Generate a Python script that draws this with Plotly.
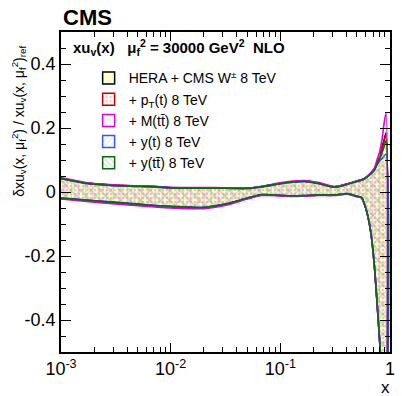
import plotly.graph_objects as go

# x grid of the uncertainty bands
x = [0.001, 0.0018, 0.0036, 0.0072, 0.01, 0.02, 0.032, 0.05, 0.068, 0.1, 0.13,
     0.165, 0.22, 0.31, 0.41, 0.49, 0.55, 0.58, 0.62, 0.67, 0.72, 0.76, 0.81,
     0.85, 0.88, 0.92]

# relative uncertainty bands (upper / lower edges)
hera_up = [0.043, 0.027, 0.020, 0.017, 0.0135, 0.013, 0.012, 0.0115, 0.017, 0.027, 0.032,
           0.034, 0.028, 0.016, 0.025, 0.033, 0.038, 0.041, 0.048, 0.058, 0.069, 0.088,
           0.112, 0.142, 0.16, 0.184]
hera_lo = [-0.020, -0.027, -0.035, -0.043, -0.046, -0.049, -0.038, -0.020, -0.009, -0.011,
           -0.013, -0.012, -0.010, -0.010, -0.006, -0.013, -0.018, -0.035, -0.067, -0.128,
           -0.23, -0.34, -0.48, -0.62, -0.75, -0.9]

pt_up = [0.042, 0.027, 0.020, 0.017, 0.0135, 0.013, 0.012, 0.0115, 0.017, 0.027, 0.032,
         0.034, 0.028, 0.016, 0.025, 0.033, 0.038, 0.041, 0.048, 0.058, 0.069, 0.087,
         0.11, 0.138, 0.156, 0.178]
pt_lo = [-0.020, -0.027, -0.035, -0.043, -0.046, -0.049, -0.038, -0.020, -0.009, -0.011,
         -0.013, -0.012, -0.010, -0.010, -0.006, -0.013, -0.018, -0.035, -0.067, -0.128,
         -0.23, -0.34, -0.48, -0.62, -0.75, -0.9]

mtt_up = [0.045, 0.028, 0.021, 0.018, 0.015, 0.014, 0.013, 0.012, 0.018, 0.029, 0.034,
          0.036, 0.030, 0.017, 0.026, 0.034, 0.039, 0.042, 0.050, 0.061, 0.075, 0.10,
          0.13, 0.17, 0.21, 0.247]
mtt_lo = [-0.022, -0.030, -0.039, -0.047, -0.050, -0.052, -0.041, -0.022, -0.011, -0.012,
          -0.014, -0.013, -0.011, -0.011, -0.007, -0.014, -0.019, -0.036, -0.068, -0.13,
          -0.232, -0.345, -0.485, -0.63, -0.76, -0.91]

yt_up = [0.042, 0.026, 0.019, 0.016, 0.013, 0.012, 0.0115, 0.011, 0.016, 0.026, 0.031,
         0.033, 0.027, 0.015, 0.024, 0.032, 0.037, 0.040, 0.047, 0.057, 0.068, 0.085,
         0.098, 0.105, 0.112, 0.118]
yt_lo = [-0.019, -0.026, -0.034, -0.042, -0.045, -0.048, -0.037, -0.019, -0.008, -0.010,
         -0.012, -0.011, -0.009, -0.009, -0.005, -0.012, -0.017, -0.034, -0.066, -0.127,
         -0.228, -0.338, -0.478, -0.62, -0.75, -0.9]

ytt_up = [0.042, 0.026, 0.019, 0.016, 0.013, 0.012, 0.0115, 0.011, 0.016, 0.026, 0.031,
          0.033, 0.027, 0.015, 0.024, 0.032, 0.037, 0.040, 0.047, 0.057, 0.068, 0.086,
          0.105, 0.125, 0.14, 0.16]
ytt_lo = [-0.019, -0.026, -0.034, -0.042, -0.045, -0.048, -0.037, -0.019, -0.008, -0.010,
          -0.012, -0.011, -0.009, -0.009, -0.005, -0.012, -0.017, -0.034, -0.066, -0.127,
          -0.228, -0.338, -0.478, -0.62, -0.75, -0.9]

names = ["HERA + CMS W<sup>±</sup> 8 TeV", "+ p<sub>T</sub>(t) 8 TeV", "+ M(tt̄) 8 TeV",
         "+ y(t) 8 TeV", "+ y(tt̄) 8 TeV"]

FONT = "Liberation Sans, Arial, sans-serif"

bands = [
    (names[0], hera_up, hera_lo, "#000000", dict(shape="", bgcolor="#ffffcc"), "#ffffcc"),
    (names[1], pt_up, pt_lo, "#cc0000", dict(shape=".", fgcolor="#ff8080", bgcolor="rgba(0,0,0,0)",
                                          size=4, solidity=0.3), None),
    (names[2], mtt_up, mtt_lo, "#dd00dd", dict(shape="|", fgcolor="#ff99ff", bgcolor="rgba(0,0,0,0)",
                                           size=7, solidity=0.2), None),
    (names[3], yt_up, yt_lo, "#3355ff", dict(shape="/", fgcolor="#99aaff", bgcolor="rgba(0,0,0,0)",
                                         size=7, solidity=0.2), None),
    (names[4], ytt_up, ytt_lo, "#116611", dict(shape="\\", fgcolor="#88c088", bgcolor="rgba(0,0,0,0)",
                                           size=7, solidity=0.25), None),
]

fig = go.Figure()
for name, up, lo, lc, patt, fc in bands:
    kw = dict(fillcolor=fc) if fc else dict(fillpattern=patt, fillcolor="rgba(0,0,0,0)")
    fig.add_trace(go.Scatter(
        x=x + x[::-1], y=up + lo[::-1], name=name, mode="lines", showlegend=False,
        fill="toself", line=dict(color=lc, width=1.6, shape="spline", smoothing=0.8),
        **kw))

# legend entries drawn as boxes (bar legend symbols)
for name, up, lo, lc, patt, fc in bands:
    if fc:
        marker = dict(color=fc, line=dict(color=lc, width=1.5))
    else:
        p = dict(patt)
        p["bgcolor"] = "white"
        p["size"] = 5
        marker = dict(color="white", pattern=p, line=dict(color=lc, width=1.5))
    fig.add_trace(go.Bar(x=[None], y=[None], name=name, marker=marker, showlegend=True))

axis_common = dict(showline=True, linecolor="black", linewidth=1.5, mirror="ticks",
                   ticks="inside", tickcolor="black", showgrid=False, zeroline=False,
                   tickfont=dict(family=FONT, size=18, color="black"))

# page body has an 8 px margin, so the figure is shrunk by 8 px on each side
fig.update_layout(
    width=403, height=388,
    margin=dict(l=53, r=21, t=24, b=44),
    plot_bgcolor="white", paper_bgcolor="white",
    font=dict(family=FONT, color="black"),
    xaxis=dict(type="log", range=[-3, 0], tickmode="array",
               tickvals=[0.001, 0.01, 0.1, 1],
               ticktext=["10<sup>-3</sup>", "10<sup>-2</sup>", "10<sup>-1</sup>", "1"],
               ticklen=9,
               minor=dict(ticks="inside", ticklen=5, dtick="D1", tickcolor="black", showgrid=False),
               **axis_common),
    yaxis=dict(range=[-0.5, 0.5], tickvals=[-0.4, -0.2, 0, 0.2, 0.4],
               ticktext=["-0.4", "-0.2", "0", "0.2", "0.4"], ticklen=10,
               minor=dict(ticks="inside", ticklen=5, dtick=0.05, tickcolor="black", showgrid=False),
               **axis_common),
    legend=dict(x=0.084, y=0.905, xanchor="left", yanchor="top", bgcolor="rgba(0,0,0,0)",
                font=dict(family=FONT, size=14, color="black"), tracegroupgap=0),
    showlegend=True,
)

fig.add_annotation(text="<b>CMS</b>", xref="paper", yref="paper", x=0.0, y=1.0,
                   xanchor="left", yanchor="bottom", showarrow=False,
                   font=dict(family=FONT, size=22, color="black"))
fig.add_annotation(text="<b>xu<sub>v</sub>(x)   μ<sub>f</sub><sup>2</sup> = 30000 GeV<sup>2</sup>  NLO</b>",
                   xref="paper", yref="paper", x=0.03, y=0.99, xanchor="left", yanchor="top",
                   showarrow=False, font=dict(family=FONT, size=15, color="black"))
fig.add_annotation(text="δxu<sub>v</sub>(x, μ<sub>f</sub><sup>2</sup>) / xu<sub>v</sub>(x, μ<sub>f</sub><sup>2</sup>)<sub>ref</sub>",
                   xref="paper", yref="paper", x=-0.13, y=0.72, xanchor="center", yanchor="middle",
                   textangle=-90, showarrow=False, font=dict(family=FONT, size=14, color="black"))
fig.add_annotation(text="x", xref="paper", yref="paper", x=0.985, y=-0.075,
                   xanchor="center", yanchor="top", showarrow=False,
                   font=dict(family=FONT, size=17, color="black"))

fig.write_html("out.html")
